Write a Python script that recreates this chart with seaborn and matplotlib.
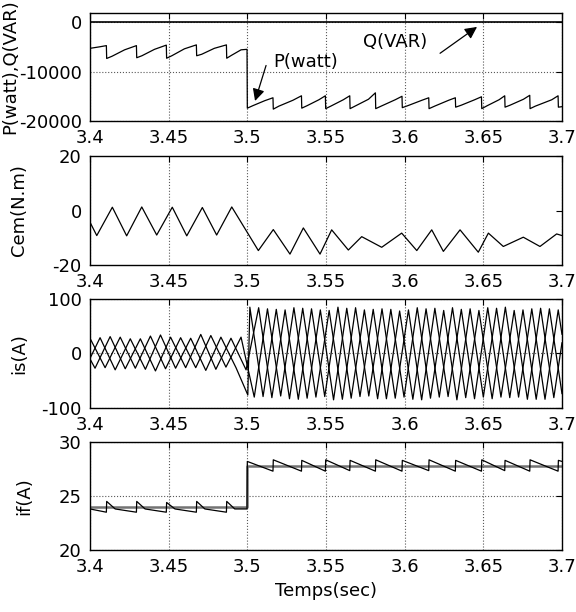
import matplotlib
matplotlib.use("Agg")
import matplotlib.pyplot as plt
import numpy as np
import pandas as pd
import seaborn as sns

# ---------------- data ----------------
p_t = [3.4000, 3.4060, 3.4104, 3.4106, 3.4140, 3.4220, 3.4295, 3.4297, 3.4330, 3.4410,
       3.4485, 3.4487, 3.4520, 3.4600, 3.4676, 3.4678, 3.4710, 3.4790, 3.4867, 3.4869,
       3.4900, 3.4960, 3.4998, 3.5000,
       3.5035, 3.5110, 3.5163, 3.5165, 3.5200, 3.5290, 3.5344, 3.5346, 3.5380, 3.5455,
       3.5496, 3.5498, 3.5530, 3.5610, 3.5651, 3.5653, 3.5690, 3.5770, 3.5814, 3.5816,
       3.5850, 3.5940, 3.5983, 3.5985, 3.6020, 3.6110, 3.6153, 3.6155, 3.6190, 3.6280,
       3.6322, 3.6324, 3.6360, 3.6445, 3.6488, 3.6490, 3.6525, 3.6600, 3.6636, 3.6638,
       3.6670, 3.6755, 3.6795, 3.6797, 3.6830, 3.6935, 3.6975, 3.6977, 3.7000]
p_v = [-5300, -5000, -4750, -7350, -6900, -5600, -4750, -7200, -6800, -5500,
       -4650, -7300, -6800, -5400, -4600, -6800, -6500, -5300, -4600, -7300,
       -6700, -5600, -5500, -17400,
       -16900, -15900, -15300, -17600, -17000, -15800, -14900, -17400, -16900, -15700,
       -14900, -17500, -17000, -15700, -14900, -17500, -16900, -15600, -14300, -17500,
       -17000, -15700, -15000, -17300, -16900, -15800, -15300, -17500, -17000, -15800,
       -15300, -17200, -16800, -15700, -15100, -17500, -16900, -15700, -14900, -17200,
       -16800, -15600, -14800, -17500, -17000, -15700, -14900, -17200, -17100]
q_t = [3.4, 3.7]
q_v = [0, 0]

cem_t = [3.4000, 3.4043, 3.4142, 3.4233, 3.4329, 3.4424, 3.4523, 3.4615, 3.4714, 3.4805,
         3.4901, 3.5070, 3.5165, 3.5271, 3.5356, 3.5462, 3.5536, 3.5642, 3.5727, 3.5854,
         3.5981, 3.6077, 3.6172, 3.6246, 3.6352, 3.6468, 3.6532, 3.6627, 3.6754, 3.6860,
         3.6966, 3.7000]
cem_v = [-4.3, -9.2, 1.2, -9.3, 1.3, -9.0, 1.2, -9.3, 1.1, -9.0,
         1.3, -14.7, -7.0, -16.0, -6.4, -16.0, -7.1, -14.5, -9.6, -13.5,
         -8.3, -14.7, -7.1, -15.0, -7.1, -15.3, -8.3, -13.2, -9.8, -13.2,
         -8.6, -9.2]

isa_t = [3.4000, 3.4096, 3.4192, 3.4288, 3.4384, 3.4480, 3.4576, 3.4672, 3.4768, 3.4864,
         3.4960, 3.5044, 3.5128, 3.5212, 3.5296, 3.5380, 3.5464, 3.5548, 3.5632, 3.5716,
         3.5800, 3.5884, 3.5968, 3.6052, 3.6136, 3.6220, 3.6304, 3.6388, 3.6472, 3.6556,
         3.6640, 3.6724, 3.6808, 3.6892, 3.6976, 3.7000]
isa_v = [28, -26, 30, -27, 32, -28, 29, -26, 33, -25,
         30, -80, 82, -78, 84, -82, 80, -85, 83, -79,
         81, -83, 78, -84, 82, -80, 84, -81, 79, -83,
         85, -80, 82, -84, 80, 35]
isb_t = [3.4000, 3.4064, 3.4160, 3.4256, 3.4352, 3.4448, 3.4544, 3.4640, 3.4736, 3.4832,
         3.4928, 3.5003, 3.5016, 3.5100, 3.5184, 3.5268, 3.5352, 3.5436, 3.5520, 3.5604,
         3.5688, 3.5772, 3.5856, 3.5940, 3.6024, 3.6108, 3.6192, 3.6276, 3.6360, 3.6444,
         3.6528, 3.6612, 3.6696, 3.6780, 3.6864, 3.6948, 3.7000]
isb_v = [-9, 29, -30, 27, -29, 34, -27, 28, -31, 30,
         -26, -76, 85, -79, 81, -83, 83, -80, 79, -84,
         84, -78, 82, -82, 80, -85, 83, -79, 81, -83,
         84, -80, 79, -84, 83, -81, 20]
isc_t = [3.4000, 3.4032, 3.4128, 3.4224, 3.4320, 3.4416, 3.4512, 3.4608, 3.4704, 3.4800,
         3.4896, 3.4992, 3.5072, 3.5156, 3.5240, 3.5324, 3.5408, 3.5492, 3.5576, 3.5660,
         3.5744, 3.5828, 3.5912, 3.5996, 3.6080, 3.6164, 3.6248, 3.6332, 3.6416, 3.6500,
         3.6584, 3.6668, 3.6752, 3.6836, 3.6920, 3.7000]
isc_v = [-10, -27, 31, -28, 27, -32, 30, -26, 35, -29,
         28, -30, 84, -81, 80, -84, 82, -79, 85, -82,
         80, -83, 81, -80, 84, -82, 79, -85, 82, -80,
         83, -81, 80, -84, 82, -74]

if_t = [3.4000, 3.4104, 3.4106, 3.4160, 3.4295, 3.4297, 3.4350, 3.4485, 3.4487, 3.4540,
        3.4676, 3.4678, 3.4730, 3.4867, 3.4869, 3.4920, 3.4998, 3.5000, 3.5163, 3.5165,
        3.5344, 3.5346, 3.5496, 3.5498, 3.5651, 3.5653, 3.5814, 3.5816, 3.5983, 3.5985,
        3.6153, 3.6155, 3.6322, 3.6324, 3.6488, 3.6490, 3.6636, 3.6638, 3.6795, 3.6797,
        3.6975, 3.6977, 3.7000]
if_v = [23.8, 23.5, 24.5, 23.8, 23.5, 24.5, 23.8, 23.5, 24.4, 23.8,
        23.5, 24.5, 23.8, 23.5, 24.5, 23.8, 23.8, 28.2, 27.3, 28.35,
        27.3, 28.3, 27.3, 28.35, 27.35, 28.3, 27.3, 28.35, 27.3, 28.3,
        27.35, 28.35, 27.3, 28.3, 27.3, 28.35, 27.35, 28.3, 27.3, 28.35,
        27.3, 28.3, 28.2]
ifref_t = [3.4, 3.5, 3.5, 3.7]
ifref_v = [23.95, 23.95, 27.75, 27.75]

x_ticks = [3.4, 3.45, 3.5, 3.55, 3.6, 3.65, 3.7]
x_labels = ["3.4", "3.45", "3.5", "3.55", "3.6", "3.65", "3.7"]

# ---------------- styling ----------------
sns.set_style("white")
plt.rcParams["font.family"] = ["DejaVu Sans"]
plt.rcParams["axes.unicode_minus"] = False
plt.rcParams["text.color"] = "k"
plt.rcParams["axes.labelcolor"] = "k"
FS = 13

fig = plt.figure(figsize=(5.76, 6.12), dpi=100)
L, W = 90 / 576, 472 / 576
rects = [(13, 121), (156, 265), (299, 408), (442, 550)]
axes = []
for top, bot in rects:
    ax = fig.add_axes([L, 1 - bot / 612, W, (bot - top) / 612])
    axes.append(ax)

def lp(ax, t, v, **kw):
    sns.lineplot(x=t, y=v, ax=ax, estimator=None, sort=False, legend=False, **kw)

ax1, ax2, ax3, ax4 = axes
lp(ax1, p_t, p_v, color="k", lw=0.9)
lp(ax1, q_t, q_v, color="k", lw=1.2)
lp(ax2, cem_t, cem_v, color="k", lw=0.9)
for tt, vv in [(isa_t, isa_v), (isb_t, isb_v), (isc_t, isc_v)]:
    lp(ax3, tt, vv, color="k", lw=0.9)
lp(ax4, ifref_t, ifref_v, color="0.45", lw=1.8)
lp(ax4, if_t, if_v, color="k", lw=0.9)

ylims = [(-20000, 1850), (-20, 20), (-100, 100), (20, 30)]
yticks = [[-20000, -10000, 0], [-20, 0, 20], [-100, 0, 100], [20, 25, 30]]
ylabels = ["P(watt),Q(VAR)", "Cem(N.m)", "is(A)", "if(A)"]
ylabx = [-0.150, -0.131, -0.131, -0.121]
ygrid = [True, False, True, True]
for i, ax in enumerate(axes):
    ax.set_xlim(3.4, 3.7)
    ax.set_ylim(*ylims[i])
    ax.set_xticks(x_ticks)
    ax.set_xticklabels(x_labels)
    ax.set_yticks(yticks[i])
    ax.set_yticklabels([str(v) for v in yticks[i]])
    ax.tick_params(direction="in", top=True, right=True, length=4, width=0.8,
                   labelsize=FS, pad=6, colors="k")
    ax.grid(True, axis="x", linestyle=":", color="0.35", lw=0.8)
    if ygrid[i]:
        ax.grid(True, axis="y", linestyle=":", color="0.35", lw=0.8)
    for s in ax.spines.values():
        s.set_visible(True)
        s.set_color("k")
        s.set_linewidth(1.0)
    ax.set_xlabel("")
    ax.set_ylabel(ylabels[i], fontsize=FS, color="k")
    ax.yaxis.set_label_coords(ylabx[i], 0.5)

ax4.set_xlabel("Temps(sec)", fontsize=FS, color="k")
ax4.xaxis.set_label_coords(0.5, -0.30)

arrow = dict(arrowstyle="-|>", color="k", lw=0.9, mutation_scale=18, shrinkA=0, shrinkB=0)
ax1.annotate("", xy=(3.5049, -15950), xytext=(3.5119, -8770), arrowprops=arrow)
ax1.text(3.5163, -8150, "P(watt)", fontsize=FS, ha="left", va="center", color="k")
ax1.annotate("", xy=(3.6460, -965), xytext=(3.6225, -6300), arrowprops=arrow)
ax1.text(3.5735, -4050, "Q(VAR)", fontsize=FS, ha="left", va="center", color="k")

fig.savefig("out.png", dpi=100)
